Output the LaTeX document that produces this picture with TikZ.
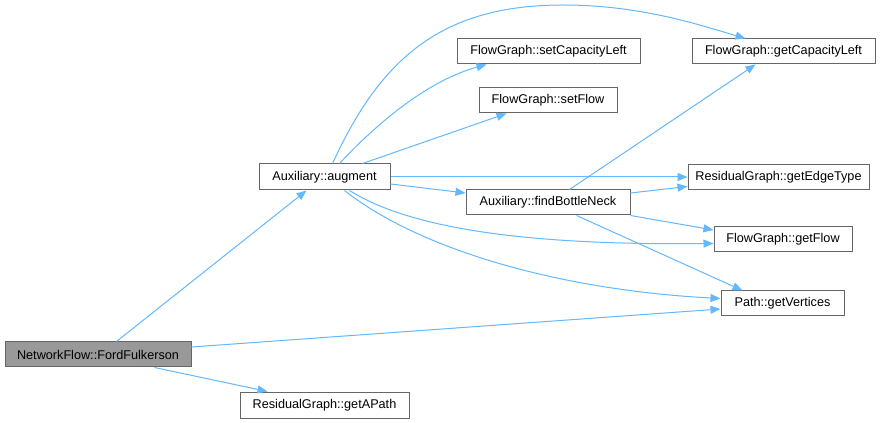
\documentclass[tikz,border=0pt]{standalone}
\usepackage{fontspec}
\setmainfont{Liberation Sans}
\usetikzlibrary{arrows.meta,calc}
\definecolor{edgec}{HTML}{63B8FF}
\definecolor{bordc}{HTML}{666666}
\definecolor{hlc}{HTML}{999999}
\begin{document}
\begin{tikzpicture}[x=0.75pt,y=-0.75pt,
  box/.style={draw=bordc,line width=0.75pt,fill=white,inner sep=0pt,minimum height=25*0.75pt,font=\fontsize{9.5}{11}\selectfont},
  hl/.style={box,fill=hlc},
  edge/.style={draw=edgec,line width=0.75pt,-{Triangle[length=7.5pt,width=6pt]}}]
\useasboundingbox (0,0) rectangle (884,423);
\fill[white] (0,0) rectangle (884,423);
\node[hl,minimum width=186*0.75pt] (ff) at (98,354.5) {NetworkFlow::FordFulkerson};
\node[box,minimum width=169*0.75pt,minimum height=26*0.75pt] (gap) at (324.5,405) {ResidualGraph::getAPath};
\node[box,minimum width=131*0.75pt,minimum height=26*0.75pt] (aug) at (324.5,177) {Auxiliary::augment};
\node[box,minimum width=164*0.75pt] (fbn) at (548,202.5) {Auxiliary::findBottleNeck};
\node[box,minimum width=183*0.75pt] (scl) at (548.5,51.5) {FlowGraph::setCapacityLeft};
\node[box,minimum width=138*0.75pt] (sf) at (548,100.5) {FlowGraph::setFlow};
\node[box,minimum width=183*0.75pt] (gcl) at (783.5,51.5) {FlowGraph::getCapacityLeft};
\node[box,minimum width=181*0.75pt] (get) at (778.5,177.5) {ResidualGraph::getEdgeType};
\node[box,minimum width=138*0.75pt] (gf) at (783,239.5) {FlowGraph::getFlow};
\node[box,minimum width=123*0.75pt] (gv) at (782.5,303.5) {Path::getVertices};
% edges from FordFulkerson
\draw[edge] ($(ff.north west)+(112,0)$) -- ($(aug.south west)+(48,0)$);
\draw[edge] ($(ff.east)+(0,-7.5)$) -- ($(gv.west)+(0,5.5)$);
\draw[edge] ($(ff.south west)+(150,0)$) -- ($(gap.north west)+(28,0)$);
% edges from augment
\draw[edge] ($(aug.north west)+(74,0)$) .. controls (380,60) and (440,5) .. (563,5) .. controls (640,5) and (700,25) .. ($(gcl.north west)+(54,0)$);
\draw[edge] ($(aug.north west)+(81,0)$) .. controls (380,120) and (430,80) .. ($(scl.south west)+(30,0)$);
\draw[edge] ($(aug.north west)+(104,0)$) -- ($(sf.south west)+(28,0)$);
\draw[edge] (aug.east) -- (aug.east -| get.west);
\draw[edge] ($(aug.east)+(0,7)$) -- ($(fbn.west)+(0,-9.5)$);
\draw[edge] ($(aug.south west)+(91,0)$) .. controls (420,235) and (560,245) .. ($(gf.west)+(0,4)$);
\draw[edge] ($(aug.south west)+(86,0)$) .. controls (420,250) and (560,290) .. ($(gv.west)+(0,-5)$);
% edges from findBottleNeck
\draw[edge] ($(fbn.north west)+(104,0)$) -- ($(gcl.south west)+(64,0)$);
\draw[edge] ($(fbn.east)+(0,-9.5)$) -- ($(get.west)+(0,9)$);
\draw[edge] (fbn.south east) -- ($(gf.west)+(0,-9.5)$);
\draw[edge] ($(fbn.south west)+(111,0)$) -- ($(gv.north west)+(22,0)$);
\end{tikzpicture}
\end{document}
